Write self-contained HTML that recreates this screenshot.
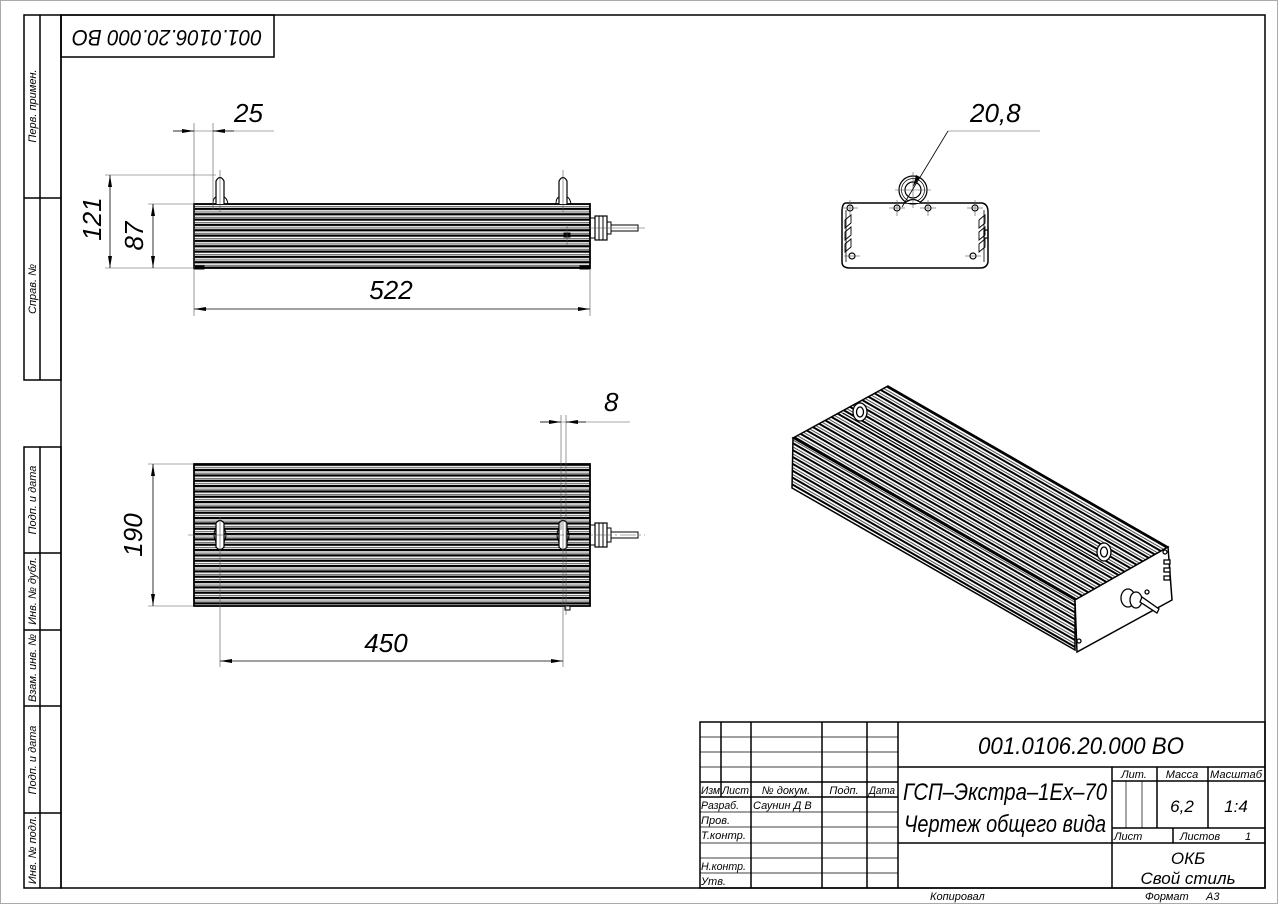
<!DOCTYPE html>
<html><head><meta charset="utf-8"><style>
html,body{margin:0;padding:0;background:#fff}
svg{display:block}
text{font-family:"Liberation Sans",sans-serif;font-style:italic;fill:#000}
</style></head><body>
<svg width="1279" height="905" viewBox="0 0 1279 905" xmlns="http://www.w3.org/2000/svg">
<defs>
<pattern id="fins" width="20" height="5.33" patternUnits="userSpaceOnUse">
<rect width="20" height="5.33" fill="#fff"/>
<rect y="0" width="20" height="2.2" fill="#000"/>
<rect y="3.7" width="20" height="0.8" fill="#333"/>
</pattern>
<pattern id="isofins" width="40" height="6" patternUnits="userSpaceOnUse" patternTransform="rotate(29.9)">
<rect width="40" height="6" fill="#fff"/>
<rect y="0" width="40" height="2" fill="#000"/>
<rect y="3.8" width="40" height="0.8" fill="#222"/>
</pattern>
<marker id="ar" viewBox="0 0 12 4" refX="12" refY="2" markerWidth="12" markerHeight="4" orient="auto-start-reverse" markerUnits="userSpaceOnUse"><path d="M0,0 L12,2 L0,4z" fill="#000"/></marker>
</defs>
<rect x="0.5" y="0.5" width="1277" height="903" fill="none" stroke="#aaa" stroke-width="1"/>
<g fill="none" stroke="#000" stroke-width="1.5">
<rect x="61" y="15" width="1204" height="873"/>
<rect x="61" y="15" width="213" height="42"/>
<rect x="24" y="15" width="37" height="365"/>
<line x1="40" y1="15" x2="40" y2="380"/>
<line x1="24" y1="198" x2="61" y2="198"/>
<rect x="24" y="447" width="37" height="441"/>
<line x1="40" y1="447" x2="40" y2="888"/>
<line x1="24" y1="553" x2="61" y2="553"/>
<line x1="24" y1="630" x2="61" y2="630"/>
<line x1="24" y1="706" x2="61" y2="706"/>
<line x1="24" y1="813" x2="61" y2="813"/>
</g>
<text transform="translate(167,36) rotate(180)" font-size="22" text-anchor="middle" dominant-baseline="middle" textLength="190" lengthAdjust="spacingAndGlyphs">001.0106.20.000 BO</text>
<g font-size="11">
<text transform="translate(36,106) rotate(-90)" text-anchor="middle">Перв. примен.</text>
<text transform="translate(36,289) rotate(-90)" text-anchor="middle">Справ. №</text>
<text transform="translate(36,500) rotate(-90)" text-anchor="middle">Подп. и дата</text>
<text transform="translate(36,591) rotate(-90)" text-anchor="middle">Инв. № дубл.</text>
<text transform="translate(36,668) rotate(-90)" text-anchor="middle">Взам. инв. №</text>
<text transform="translate(36,760) rotate(-90)" text-anchor="middle">Подп. и дата</text>
<text transform="translate(36,850) rotate(-90)" text-anchor="middle">Инв. № подл.</text>
</g>

<!-- FRONT VIEW -->
<g stroke="#000" fill="none">
<rect x="194" y="204" width="396" height="64" fill="url(#fins)" stroke-width="1.8"/>
<path d="M216,204 L216,181 Q220,174 224,181 L224,204" fill="#fff" stroke-width="1.2"/>
<path d="M213,204 Q213,198 216,197 M224,197 Q227,198 228,204" stroke-width="1"/>
<path d="M559,204 L559,181 Q563,174 567,181 L567,204" fill="#fff" stroke-width="1.2"/>
<path d="M556,204 Q556,198 559,197 M567,197 Q570,198 571,204" stroke-width="1"/>
<rect x="590" y="218" width="5" height="20" stroke-width="1"/>
<rect x="595" y="216" width="12" height="24" stroke-width="1.2"/>
<line x1="599" y1="216" x2="599" y2="240"/><line x1="603" y1="216" x2="603" y2="240"/>
<rect x="607" y="222" width="4" height="12"/>
<rect x="611" y="225" width="27" height="6"/>
<rect x="564" y="233" width="6" height="4" fill="#000"/>
<rect x="194" y="266" width="10" height="3" fill="#000"/><rect x="580" y="266" width="10" height="3" fill="#000"/>
</g>
<g stroke="#555" stroke-width="0.6" fill="none">
<line x1="220" y1="170" x2="220" y2="212"/><line x1="563" y1="170" x2="563" y2="212"/>
<line x1="560" y1="228" x2="645" y2="228"/><line x1="567" y1="225" x2="567" y2="245"/>
<line x1="194" y1="123" x2="194" y2="316"/><line x1="213" y1="123" x2="213" y2="210"/>
<line x1="173" y1="131" x2="274" y2="131"/>
<line x1="105" y1="175" x2="216" y2="175"/>
<line x1="105" y1="268" x2="194" y2="268"/>
<line x1="148" y1="204" x2="194" y2="204"/>
<line x1="590" y1="270" x2="590" y2="316"/>
</g>
<g stroke="#000" stroke-width="0.8">
<line x1="173" y1="131" x2="194" y2="131" marker-end="url(#ar)"/>
<line x1="234" y1="131" x2="213" y2="131" marker-end="url(#ar)"/>
<line x1="110" y1="175" x2="110" y2="268" marker-start="url(#ar)" marker-end="url(#ar)"/>
<line x1="153" y1="204" x2="153" y2="268" marker-start="url(#ar)" marker-end="url(#ar)"/>
<line x1="194" y1="309" x2="590" y2="309" marker-start="url(#ar)" marker-end="url(#ar)"/>
</g>
<g font-size="26">
<text x="234" y="122">25</text>
<text transform="translate(101,219) rotate(-90)" text-anchor="middle">121</text>
<text transform="translate(143,236) rotate(-90)" text-anchor="middle">87</text>
<text x="391" y="299" text-anchor="middle">522</text>
</g>

<!-- TOP VIEW -->
<g stroke="#000" fill="none">
<rect x="194" y="464" width="396" height="142" fill="url(#fins)" stroke-width="1.8"/>
<path d="M216,523 Q220,518 224,523 L224,547 Q220,552 216,547z" fill="#fff" stroke-width="1.2"/>
<path d="M216,528 Q212,535 216,542 M224,528 Q228,535 224,542"/>
<path d="M559,523 Q563,518 567,523 L567,547 Q563,552 559,547z" fill="#fff" stroke-width="1.2"/>
<path d="M559,528 Q555,535 559,542 M567,528 Q571,535 567,542"/>
<rect x="590" y="525" width="5" height="20"/>
<rect x="595" y="523" width="12" height="24" stroke-width="1.2"/>
<line x1="599" y1="523" x2="599" y2="547"/><line x1="603" y1="523" x2="603" y2="547"/>
<rect x="607" y="528" width="4" height="14"/>
<rect x="611" y="532" width="27" height="6"/>
<rect x="565" y="606" width="5" height="4" fill="#fff"/>
</g>
<g stroke="#555" stroke-width="0.6" fill="none">
<line x1="188" y1="535" x2="645" y2="535" stroke-dasharray="16,3,2,3"/>
<line x1="148" y1="464" x2="194" y2="464"/><line x1="148" y1="606" x2="194" y2="606"/>
<line x1="220" y1="517" x2="220" y2="667"/><line x1="563" y1="517" x2="563" y2="667"/>
<line x1="561" y1="415" x2="561" y2="530"/><line x1="566" y1="415" x2="566" y2="615"/>
<line x1="540" y1="422" x2="630" y2="422"/>
</g>
<g stroke="#000" stroke-width="0.8">
<line x1="153" y1="464" x2="153" y2="606" marker-start="url(#ar)" marker-end="url(#ar)"/>
<line x1="220" y1="661" x2="563" y2="661" marker-start="url(#ar)" marker-end="url(#ar)"/>
<line x1="540" y1="422" x2="561" y2="422" marker-end="url(#ar)"/>
<line x1="586" y1="422" x2="566" y2="422" marker-end="url(#ar)"/>
</g>
<g font-size="26">
<text transform="translate(142,535) rotate(-90)" text-anchor="middle">190</text>
<text x="386" y="652" text-anchor="middle">450</text>
<text x="604" y="411">8</text>
</g>

<!-- END VIEW -->
<g stroke="#000" fill="none" stroke-width="1.2">
<path d="M846,203 L982,203 Q988,204 988,212 L988,262 Q987,268 980,268 L850,268 Q842,268 842,262 L842,212 Q842,203 846,203z" stroke-width="1.5"/>
<path d="M846,210 L846,262 M984,210 L984,262" stroke-width="0.8"/>
<circle cx="913" cy="190" r="14"/><circle cx="913" cy="190" r="11.5" stroke-width="0.7"/><circle cx="913" cy="190" r="8"/>
<path d="M905,203 Q913,196 921,203" fill="#fff"/>
<circle cx="850" cy="208" r="3"/><circle cx="897" cy="208" r="3"/><circle cx="928" cy="208" r="3"/><circle cx="975" cy="208" r="3"/>
<circle cx="852" cy="256" r="3"/><circle cx="973" cy="256" r="3"/>
<path d="M845,220 l6,-5 v8 l-6,5z M845,232 l6,-5 v8 l-6,5z M845,244 l6,-5 v8 l-6,5z" stroke-width="0.9"/>
<path d="M979,220 l6,-5 v8 l-6,5z M979,232 l6,-5 v8 l-6,5z M979,244 l6,-5 v8 l-6,5z" stroke-width="0.9"/>
<rect x="984" y="230" width="4" height="8"/>
</g>
<g stroke="#555" stroke-width="0.6">
<line x1="895" y1="190" x2="931" y2="190"/><line x1="913" y1="172" x2="913" y2="208"/>
<line x1="842" y1="208" x2="858" y2="208"/><line x1="850" y1="200" x2="850" y2="216"/>
<line x1="889" y1="208" x2="905" y2="208"/><line x1="897" y1="200" x2="897" y2="216"/>
<line x1="920" y1="208" x2="936" y2="208"/><line x1="928" y1="200" x2="928" y2="216"/>
<line x1="967" y1="208" x2="983" y2="208"/><line x1="975" y1="200" x2="975" y2="216"/>
<line x1="844" y1="256" x2="860" y2="256"/><line x1="965" y1="256" x2="981" y2="256"/>
<line x1="948" y1="131" x2="1040" y2="131"/>
</g>
<line x1="948" y1="131" x2="902" y2="207" stroke="#000" stroke-width="0.8"/>
<path d="M920,177 l-7,10 l3,-12z" fill="#000"/>
<text x="970" y="122" font-size="26">20,8</text>

<!-- ISO VIEW -->
<g stroke="#000" stroke-width="1.5">
<polygon points="888,386 1168,547 1075,600 793,438" fill="url(#isofins)"/>
<polygon points="793,438 1075,600 1075,650 792,488" fill="url(#isofins)"/>
<polygon points="1075,600 1168,547 1172,600 1077,652" fill="#fff"/>
</g>
<line x1="843" y1="413" x2="1120" y2="573" stroke="#000" stroke-width="1"/>
<g stroke="#000" fill="#fff" stroke-width="1.3">
<ellipse cx="860" cy="412" rx="7" ry="9"/><ellipse cx="860" cy="412" rx="3.5" ry="5"/>
<ellipse cx="1104" cy="552" rx="7" ry="9"/><ellipse cx="1104" cy="552" rx="3.5" ry="5"/>
<ellipse cx="1128" cy="598" rx="7" ry="9"/><ellipse cx="1136" cy="600" rx="6" ry="8"/>
<path d="M1140,602 L1157,613 L1159,609 L1142,597z"/>
<circle cx="1165" cy="552" r="2"/><circle cx="1079" cy="641" r="2"/><circle cx="1147" cy="592" r="2"/>
<rect x="1164" y="560" width="6" height="4"/><rect x="1164" y="568" width="6" height="4"/><rect x="1164" y="576" width="6" height="4"/>
</g>

<!-- TITLE BLOCK -->
<g stroke="#000" fill="none">
<rect x="700" y="722" width="565" height="166" stroke-width="1.5"/>
<g stroke-width="1.5">
<line x1="721" y1="722" x2="721" y2="797"/>
<line x1="751" y1="722" x2="751" y2="888"/>
<line x1="822" y1="722" x2="822" y2="888"/>
<line x1="867" y1="722" x2="867" y2="888"/>
<line x1="898" y1="722" x2="898" y2="888"/>
<line x1="700" y1="782" x2="898" y2="782"/>
<line x1="700" y1="797" x2="898" y2="797"/>
<line x1="898" y1="767" x2="1265" y2="767"/>
<line x1="898" y1="843" x2="1265" y2="843"/>
<line x1="1112" y1="767" x2="1112" y2="888"/>
<line x1="1112" y1="781" x2="1265" y2="781"/>
<line x1="1112" y1="828" x2="1265" y2="828"/>
<line x1="1157" y1="767" x2="1157" y2="828"/>
<line x1="1208" y1="767" x2="1208" y2="828"/>
<line x1="1173" y1="828" x2="1173" y2="843"/>
</g>
<g stroke-width="0.7">
<line x1="700" y1="737" x2="898" y2="737"/>
<line x1="700" y1="752" x2="898" y2="752"/>
<line x1="700" y1="767" x2="898" y2="767"/>
<line x1="700" y1="812" x2="898" y2="812"/>
<line x1="700" y1="827" x2="898" y2="827"/>
<line x1="700" y1="843" x2="898" y2="843"/>
<line x1="700" y1="858" x2="898" y2="858"/>
<line x1="700" y1="873" x2="898" y2="873"/>
<line x1="1126" y1="781" x2="1126" y2="828"/>
<line x1="1142" y1="781" x2="1142" y2="828"/>
</g>
</g>
<g font-size="11">
<text x="701" y="794" textLength="19" lengthAdjust="spacingAndGlyphs">Изм</text><text x="722" y="794" textLength="27" lengthAdjust="spacingAndGlyphs">Лист</text>
<text x="786" y="794" text-anchor="middle">№ докум.</text>
<text x="844" y="794" text-anchor="middle">Подп.</text><text x="882" y="794" text-anchor="middle" textLength="26" lengthAdjust="spacingAndGlyphs">Дата</text>
<text x="701" y="809" textLength="38" lengthAdjust="spacingAndGlyphs">Разраб.</text><text x="753" y="809">Саунин Д В</text>
<text x="701" y="824">Пров.</text>
<text x="701" y="839" textLength="45" lengthAdjust="spacingAndGlyphs">Т.контр.</text>
<text x="701" y="870" textLength="45" lengthAdjust="spacingAndGlyphs">Н.контр.</text>
<text x="701" y="885">Утв.</text>
<text x="1134" y="778" text-anchor="middle">Лит.</text>
<text x="1182" y="778" text-anchor="middle">Масса</text>
<text x="1236" y="778" text-anchor="middle" textLength="52" lengthAdjust="spacingAndGlyphs">Масштаб</text>
<text x="1114" y="840">Лист</text><text x="1180" y="840">Листов</text><text x="1245" y="840">1</text>
<text x="930" y="900">Копировал</text>
<text x="1145" y="900">Формат</text><text x="1206" y="900">А3</text>
</g>
<text x="1081" y="754" font-size="24" text-anchor="middle" textLength="206" lengthAdjust="spacingAndGlyphs">001.0106.20.000 BO</text>
<text x="1005" y="800" font-size="24" text-anchor="middle" textLength="204" lengthAdjust="spacingAndGlyphs">ГСП–Экстра–1Ex–70</text>
<text x="1005" y="832" font-size="24" text-anchor="middle" textLength="202" lengthAdjust="spacingAndGlyphs">Чертеж общего вида</text>
<text x="1182" y="812" font-size="17" text-anchor="middle">6,2</text>
<text x="1236" y="812" font-size="17" text-anchor="middle">1:4</text>
<text x="1188" y="864" font-size="17" text-anchor="middle">ОКБ</text>
<text x="1188" y="884" font-size="17" text-anchor="middle">Свой стиль</text>
</svg>
</body></html>
